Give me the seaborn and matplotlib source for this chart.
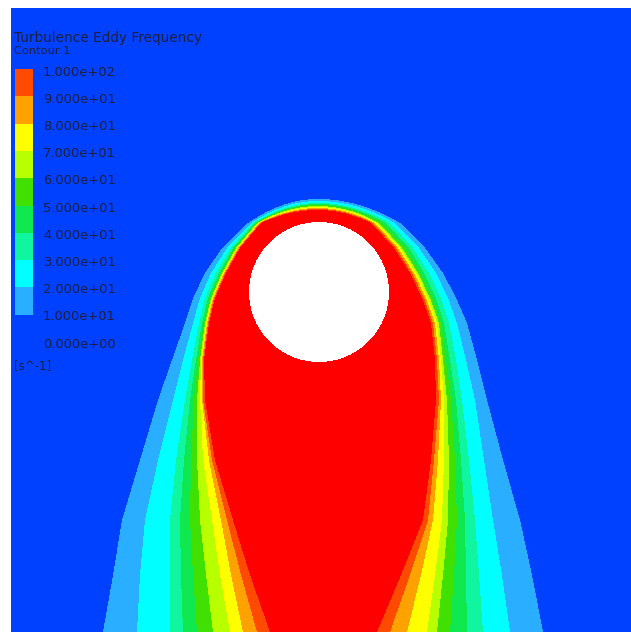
import numpy as np
import matplotlib
matplotlib.use("Agg")
import matplotlib.pyplot as plt
from matplotlib.colors import ListedColormap
import seaborn as sns

# ---------------- data (pixel units) ----------------
levels = [10, 20, 30, 40, 50, 60, 70, 80, 90, 100]
level_labels = ["1.000e+02", "9.000e+01", "8.000e+01", "7.000e+01", "6.000e+01",
                "5.000e+01", "4.000e+01", "3.000e+01", "2.000e+01", "1.000e+01",
                "0.000e+00"]
band_colors = ["#0040ff", "#2aaeff", "#00ffff", "#10f5a0", "#10e850", "#40e000",
               "#b8ff00", "#ffff00", "#ffa200", "#ff4a00", "#ff0000"]

apex_x = 318
apex_y = [199, 201, 203, 204, 205, 206, 207, 208, 209, 210]
rows_y = [223, 248, 273, 298, 323, 360, 400, 460, 520, 575, 632]
left_edges = [
    [248, 222, 205, 193, 185, 172, 158, 140, 122, 113, 103],
    [251, 227, 211, 200, 193, 183, 173, 158, 145, 140, 137],
    [253, 231, 216, 205, 199, 192, 185, 176, 170, 170, 170],
    [255, 233, 219, 208, 202, 196, 190, 184, 180, 181, 183],
    [256, 235, 221, 210, 204, 198, 194, 191, 190, 193, 197],
    [257, 236, 222, 211, 205, 200, 197, 197, 200, 206, 213],
    [258, 237, 223, 212, 206, 201, 200, 203, 212, 220, 230],
    [259, 238, 224, 213, 207, 202, 202, 209, 221, 231, 243],
    [260, 239, 225, 214, 208, 203, 203, 212, 227, 241, 257],
    [261, 240, 226, 215, 209, 204, 205, 215, 233, 250, 270],
]
right_edges = [
    [400, 425, 443, 456, 467, 477, 487, 503, 520, 532, 543],
    [395, 419, 436, 448, 457, 466, 475, 484, 493, 502, 510],
    [390, 413, 429, 441, 449, 456, 462, 469, 475, 479, 483],
    [386, 409, 424, 436, 444, 450, 456, 461, 465, 466, 467],
    [382, 405, 420, 432, 441, 446, 451, 455, 457, 454, 450],
    [379, 402, 418, 430, 439, 443, 447, 449, 448, 443, 437],
    [377, 400, 416, 428, 437, 441, 444, 444, 442, 435, 427],
    [375, 398, 414, 426, 435, 439, 441, 438, 433, 421, 407],
    [373, 396, 412, 424, 433, 437, 439, 434, 428, 410, 390],
    [371, 394, 410, 422, 431, 435, 436, 431, 423, 401, 377],
]
cyl_center = (319, 292)
cyl_radius = 70

# ---------------- build the banded field ----------------
x0, x1, y0, y1 = 11, 631, 8, 632
step = 1
xs = np.arange(x0, x1, step) + step / 2
ys = np.arange(y0, y1, step) + step / 2
X = xs[None, :]
field = np.zeros((len(ys), len(xs)))
for k in range(len(levels)):
    ay = apex_y[k]
    lx = np.interp(ys, rows_y, left_edges[k])
    rx = np.interp(ys, rows_y, right_edges[k])
    cap = (ys >= ay) & (ys < rows_y[0])
    f = np.sqrt(np.clip((ys - ay) / (rows_y[0] - ay), 0, 1))
    lx = np.where(cap, apex_x - (apex_x - left_edges[k][0]) * f, lx)
    rx = np.where(cap, apex_x + (right_edges[k][0] - apex_x) * f, rx)
    inside = (X >= lx[:, None]) & (X <= rx[:, None]) & (ys[:, None] >= ay)
    field[inside] = k + 1
cyl_mask = ((X - cyl_center[0]) ** 2 + (ys[:, None] - cyl_center[1]) ** 2) <= cyl_radius ** 2

# ---------------- draw ----------------
sns.set_style("white")
W, H = 631, 632
fig = plt.figure(figsize=(W / 100, H / 100), dpi=100)
ax = fig.add_axes([x0 / W, 1 - y1 / H, (x1 - x0) / W, (y1 - y0) / H])
sns.heatmap(field, mask=cyl_mask, cmap=ListedColormap(band_colors), vmin=-0.5, vmax=10.5,
            cbar=False, xticklabels=False, yticklabels=False, ax=ax, rasterized=True)
ax.set_facecolor("white")
for s in ax.spines.values():
    s.set_visible(False)

# legend colour bar
cb_top, cb_bot = 69, 342
lax = fig.add_axes([15 / W, 1 - cb_bot / H, 18 / W, (cb_bot - cb_top) / H])
legend_vals = np.arange(len(levels) - 1, -1, -1).reshape(-1, 1)
sns.heatmap(legend_vals, cmap=ListedColormap(band_colors[:10]), vmin=-0.5, vmax=9.5,
            cbar=False, xticklabels=False, yticklabels=False, ax=lax)
for s in lax.spines.values():
    s.set_visible(False)

tc = "#20203c"
fig.text(14 / W, 1 - 38 / H, "Turbulence Eddy Frequency", fontsize=9.8, color=tc,
         family="DejaVu Sans", va="center", ha="left")
fig.text(14 / W, 1 - 51 / H, "Contour 1", fontsize=8.2, color=tc,
         family="DejaVu Sans", va="center", ha="left")
for i, lab in enumerate(level_labels):
    yp = 72 + i * 27.2
    fig.text(43 / W, 1 - yp / H, lab, fontsize=9.4, color=tc,
             family="DejaVu Sans", va="center", ha="left")
fig.text(14 / W, 1 - 366 / H, "[s^-1]", fontsize=8.5, color=tc,
         family="DejaVu Sans", va="center", ha="left")

fig.savefig("out.png", dpi=100, facecolor="white")
